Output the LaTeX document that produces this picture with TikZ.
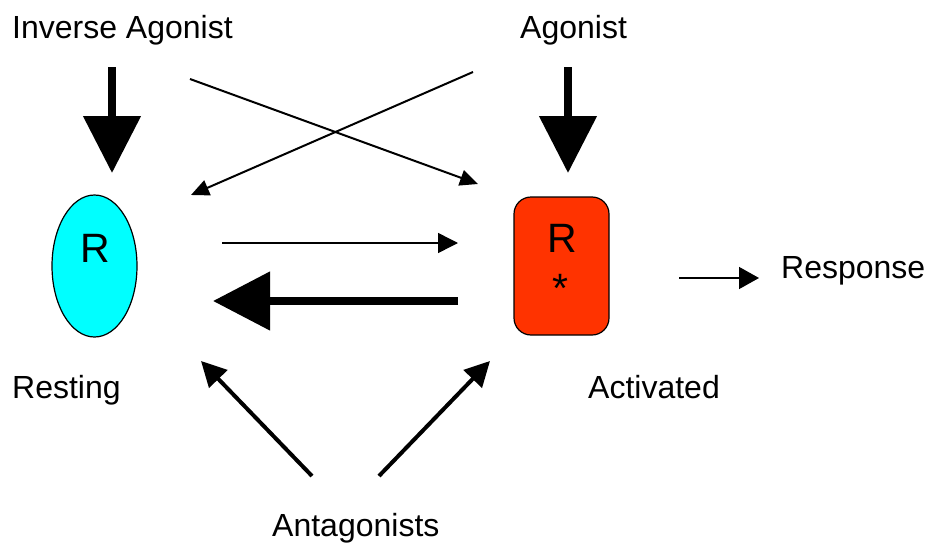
\documentclass[tikz,border=0pt]{standalone}
\usepackage{fontspec}
\setmainfont{Liberation Sans}
\usetikzlibrary{arrows.meta,shapes.geometric}
\definecolor{restcol}{HTML}{00FFFF}
\definecolor{actcol}{HTML}{FF3300}
\tikzset{
  lbl/.style={anchor=base west,inner sep=0pt,font=\fontsize{32}{32}\selectfont},
  big/.style={anchor=base,inner sep=0pt,font=\fontsize{41}{41}\selectfont},
  heavy/.style={line width=8pt,-{Triangle[length=57pt,width=56pt]}},
  light/.style={line width=1.5pt,-{Triangle[length=20pt,width=20pt]}},
  crossing/.style={line width=2pt,-{Triangle[length=18pt,width=16pt]}},
  medium/.style={line width=4pt,-{Triangle[length=25pt,width=25pt]}},
}
\begin{document}
\begin{tikzpicture}[x=1pt,y=-1pt]
\useasboundingbox (0,0) rectangle (928,543);

% receptor states
\node[draw=black,line width=1.2pt,fill=restcol,ellipse,minimum width=85pt,minimum height=142pt,inner sep=0pt] (rest) at (94.5,266) {};
\node[big] (restR) at (95,262) {R};
\node[draw=black,line width=1.2pt,fill=actcol,rounded corners=17pt,minimum width=95pt,minimum height=138pt,inner sep=0pt] (act) at (561.5,266) {};
\node[big] (actR) at (562,252) {R};
\node[big] (actS) at (560,302) {*};

% labels
\node[lbl] (inv) at (12,39) {Inverse Agonist};
\node[lbl] (ago) at (520,39) {Agonist};
\node[lbl] (resp) at (781,278) {Response};
\node[lbl] (resting) at (12,398) {Resting};
\node[lbl] (activated) at (588,398) {Activated};
\node[lbl] (anta) at (272,536) {Antagonists};

% connector end points
\coordinate (invTop) at (112,67);
\coordinate (invTip) at (112,173);
\coordinate (agoTop) at (568,67);
\coordinate (agoTip) at (568,173);
\coordinate (crossAs) at (190,79);
\coordinate (crossAe) at (478,184);
\coordinate (crossBs) at (473,72);
\coordinate (crossBe) at (191,195);
\coordinate (fwdS) at (222,243);
\coordinate (fwdE) at (458,243);
\coordinate (backS) at (458,301);
\coordinate (backE) at (213,301);
\coordinate (respS) at (679,278);
\coordinate (respE) at (759,278);
\coordinate (antLs) at (312,476);
\coordinate (antLe) at (201,361);
\coordinate (antRs) at (379,476);
\coordinate (antRe) at (490,361);

% ligand effects
\draw[heavy] (invTop) -- (invTip);
\draw[heavy] (agoTop) -- (agoTip);
\draw[crossing] (crossAs) -- (crossAe);
\draw[crossing] (crossBs) -- (crossBe);

% equilibrium between the states
\draw[light] (fwdS) -- (fwdE);
\draw[line width=8pt,-{Triangle[length=57pt,width=57pt]}] (backS) -- (backE);

% signalling output
\draw[line width=1.5pt,-{Triangle[length=20pt,width=22pt]}] (respS) -- (respE);

% antagonists bind both states
\draw[medium] (antLs) -- (antLe);
\draw[medium] (antRs) -- (antRe);
\end{tikzpicture}
\end{document}
